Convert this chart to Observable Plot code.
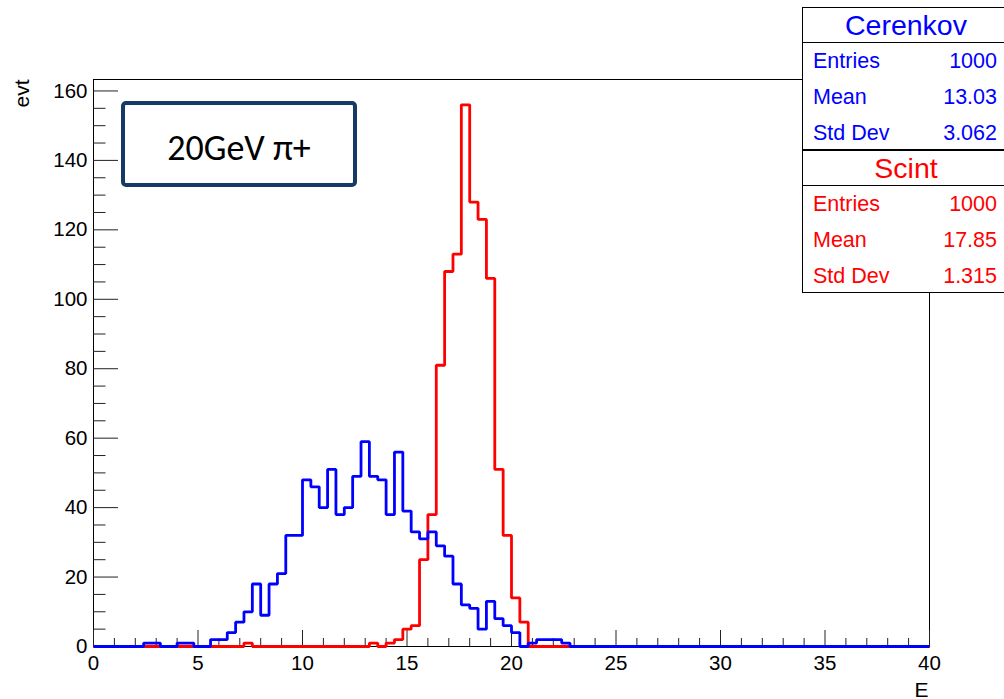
<!DOCTYPE html>
<html>
<head>
<meta charset="utf-8">
<script src="https://cdn.jsdelivr.net/npm/d3@7"></script>
<script src="https://cdn.jsdelivr.net/npm/@observablehq/plot@0.6"></script>
<style>
  html, body { margin: 0; padding: 0; background: #fff; overflow: hidden; }
  #chart { position: relative; width: 1004px; height: 699px; }
</style>
</head>
<body>
<div id="chart"></div>
<script>
// ---- Histogram binning (ROOT TH1: 100 bins on [0, 40]) ----
const xMin = 0, xMax = 40, nBins = 100;
const yMax = 163.3;

// ---- Bin contents ----
const cerenkov = [
  0, 0, 0, 0, 0, 0, 1, 1, 0, 0,
  1, 1, 0, 0, 2, 2, 4, 7, 10, 18,
  9, 18, 21, 32, 32, 48, 46, 40, 51, 38,
  40, 49, 59, 49, 48, 38, 56, 39, 33, 31,
  33, 29, 26, 18, 12, 11, 5, 13, 8, 6,
  4, 0, 1, 2, 2, 2, 1, 0, 0, 0,
  0, 0, 0, 0, 0, 0, 0, 0, 0, 0,
  0, 0, 0, 0, 0, 0, 0, 0, 0, 0,
  0, 0, 0, 0, 0, 0, 0, 0, 0, 0,
  0, 0, 0, 0, 0, 0, 0, 0, 0, 0
];
const scint = [
  0, 0, 0, 0, 0, 0, 0, 0, 0, 0,
  0, 0, 0, 0, 0, 0, 0, 0, 1, 0,
  0, 0, 0, 0, 0, 0, 0, 0, 0, 0,
  0, 0, 0, 1, 0, 1, 2, 5, 6, 25,
  38, 81, 108, 113, 156, 128, 123, 106, 51, 32,
  14, 7, 0, 0, 0, 0, 0, 0, 0, 0,
  0, 0, 0, 0, 0, 0, 0, 0, 0, 0,
  0, 0, 0, 0, 0, 0, 0, 0, 0, 0,
  0, 0, 0, 0, 0, 0, 0, 0, 0, 0,
  0, 0, 0, 0, 0, 0, 0, 0, 0, 0
];

// ---- Axis ticks ----
const xMajor = [0, 5, 10, 15, 20, 25, 30, 35, 40];
const xMinor = d3.range(0, 41, 1).filter(v => v % 5 !== 0);
const yMajor = [0, 20, 40, 60, 80, 100, 120, 140, 160];
const yMinor = d3.range(0, 161, 5).filter(v => v % 20 !== 0);
const xTitle = "E";
const yTitle = "evt";

// ---- Stat boxes ----
const statNames = ["Cerenkov", "Scint"];
const statColors = ["#0000ff", "#ff0000"];
const statEntries = ["1000", "1000"];
const statMeans = ["13.03", "17.85"];
const statStdDevs = ["3.062", "1.315"];
const statLabels = ["Entries", "Mean", "Std Dev"];
const annotation = "20GeV π+";

// Build step outlines (edge, content) for a step-after curve
const binW = (xMax - xMin) / nBins;
function outline(counts) {
  const pts = counts.map((c, i) => ({x: xMin + i * binW, y: c}));
  pts.push({x: xMax, y: counts[counts.length - 1]});
  return pts;
}

const font = "'Liberation Sans', Arial, Helvetica, sans-serif";
const none = () => "";

const svg = Plot.plot({
  width: 1004,
  height: 699,
  marginLeft: 93,
  marginRight: 75,
  marginTop: 79,
  marginBottom: 53,
  style: {fontFamily: font, fontSize: "20.5px", color: "black", background: "white", overflow: "visible"},
  x: {domain: [xMin, xMax], label: null},
  y: {domain: [0, yMax], label: null},
  marks: [
    Plot.frame({stroke: "black", strokeWidth: 1}),
    Plot.axisX({ticks: xMajor, tickSize: -16, tickFormat: none, label: null, stroke: "#222"}),
    Plot.axisX({ticks: xMinor, tickSize: -8, tickFormat: none, label: null, stroke: "#222"}),
    Plot.axisX({ticks: xMajor, tickSize: 0, tickPadding: 9, tickFormat: d => String(d), label: null, fill: "black"}),
    Plot.axisY({ticks: yMajor, tickSize: -25, tickFormat: none, label: null, stroke: "#222"}),
    Plot.axisY({ticks: yMinor, tickSize: -12.5, tickFormat: none, label: null, stroke: "#222"}),
    Plot.axisY({ticks: yMajor, tickSize: 0, tickPadding: 6, tickFormat: d => String(d), label: null, fill: "black"}),
    Plot.line(outline(scint), {x: "x", y: "y", curve: "step-after", stroke: "#ff0000", strokeWidth: 2.8, strokeLinejoin: "miter", strokeLinecap: "butt"}),
    Plot.line(outline(cerenkov), {x: "x", y: "y", curve: "step-after", stroke: "#0000ff", strokeWidth: 2.8, strokeLinejoin: "miter", strokeLinecap: "butt"}),
    Plot.text([xTitle], {frameAnchor: "bottom-right", text: d => d, textAnchor: "end", lineAnchor: "bottom", dx: -1, dy: 50, fontSize: 21, fill: "black"}),
    Plot.text([yTitle], {frameAnchor: "top-left", text: d => d, textAnchor: "end", lineAnchor: "bottom", rotate: -90, dx: -65, dy: 0, fontSize: 21, fill: "black"})
  ]
});

const root = d3.select(svg);

// Annotation box "20GeV π+"
const ann = root.append("g");
ann.append("rect")
  .attr("x", 123).attr("y", 103).attr("width", 232).attr("height", 82)
  .attr("rx", 3).attr("fill", "white").attr("stroke", "#163a66").attr("stroke-width", 4);
ann.append("text")
  .attr("x", 239).attr("y", 160).attr("text-anchor", "middle")
  .attr("font-family", "Carlito, Lato, 'Open Sans', sans-serif").attr("font-size", 36)
  .attr("fill", "black").text(annotation);

// Stat boxes (ROOT TPaveStats)
const boxTops = [7, 150];
statNames.forEach((name, k) => {
  const top = boxTops[k];
  const g = root.append("g").attr("font-family", font).attr("fill", statColors[k]);
  g.append("rect").attr("x", 802.5).attr("y", top + 0.5).attr("width", 210).attr("height", 142)
    .attr("fill", "white").attr("stroke", "black").attr("stroke-width", 1);
  g.append("line").attr("x1", 802.5).attr("x2", 1012).attr("y1", top + 35.5).attr("y2", top + 35.5)
    .attr("stroke", "black").attr("stroke-width", 1);
  g.append("text").attr("x", 906).attr("y", top + 28).attr("text-anchor", "middle")
    .attr("font-size", 28.5).text(name);
  const vals = [statEntries[k], statMeans[k], statStdDevs[k]];
  statLabels.forEach((lab, j) => {
    const yb = top + 61 + j * 36;
    g.append("text").attr("x", 813).attr("y", yb).attr("text-anchor", "start").attr("font-size", 21.5).text(lab);
    g.append("text").attr("x", 997).attr("y", yb).attr("text-anchor", "end").attr("font-size", 21.5).text(vals[j]);
  });
});

document.getElementById("chart").appendChild(svg);
</script>
</body>
</html>
